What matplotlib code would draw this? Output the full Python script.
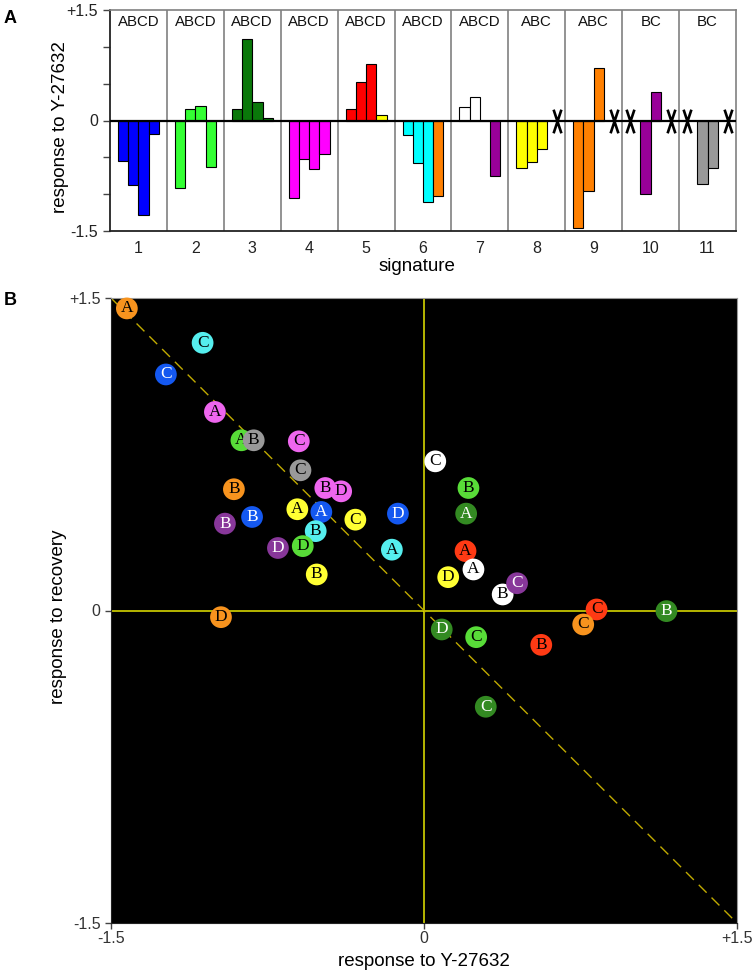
import numpy as np
import matplotlib
matplotlib.use('Agg')
import matplotlib.pyplot as plt
from matplotlib.path import Path

plt.rcParams['font.family'] = ['Liberation Sans', 'DejaVu Sans']

# ---- panel A data: response to Y-27632 per signature (A, B, C, D), None = missing (X)
signatures = [1, 2, 3, 4, 5, 6, 7, 8, 9, 10, 11]
sig_labels = ['ABCD', 'ABCD', 'ABCD', 'ABCD', 'ABCD', 'ABCD', 'ABCD', 'ABC', 'ABC', 'BC', 'BC']
bar_vals = [
    [-0.55, -0.88, -1.28, -0.18],
    [-0.91, 0.16, 0.20, -0.63],
    [0.15, 1.11, 0.25, 0.03],
    [-1.05, -0.52, -0.66, -0.45],
    [0.15, 0.52, 0.77, 0.07],
    [-0.20, -0.58, -1.11, -1.03],
    [0.18, 0.32, 0.0, -0.75],
    [-0.65, -0.56, -0.39, None],
    [-1.46, -0.96, 0.71, None],
    [None, -1.00, 0.39, None],
    [None, -0.86, -0.64, None],
]
bar_cols = [
    ['blue'] * 4,
    ['green'] * 4,
    ['darkgreen'] * 4,
    ['magenta'] * 4,
    ['red', 'red', 'red', 'yellow'],
    ['cyan', 'cyan', 'cyan', 'orange'],
    ['white', 'white', 'white', 'purple'],
    ['yellow', 'yellow', 'yellow', None],
    ['orange', 'orange', 'orange', None],
    [None, 'purple', 'purple', None],
    [None, 'gray', 'gray', None],
]

# ---- panel B data: (response to Y-27632, response to recovery)
pt_letter = ['A', 'C', 'C', 'A', 'A', 'B', 'C', 'C', 'B', 'B', 'D', 'A', 'A', 'B', 'B', 'C',
             'D', 'B', 'A', 'D', 'D', 'B', 'D', 'C', 'B', 'A', 'A', 'A', 'D', 'B', 'C', 'C',
             'C', 'B', 'D', 'C', 'B', 'C']
pt_x = [-1.424, -1.061, -1.237, -1.002, -0.875, -0.816, -0.600, -0.592, -0.911, -0.473,
        -0.397, -0.607, -0.492, -0.824, -0.954, -0.329, -0.125, -0.519, -0.154, -0.700,
        -0.581, -0.514, -0.973, 0.054, 0.213, 0.202, 0.199, 0.237, 0.116, 0.377,
        0.446, 0.827, 0.763, 1.162, 0.085, 0.250, 0.562, 0.296]
pt_y = [1.450, 1.285, 1.133, 0.953, 0.817, 0.817, 0.812, 0.673, 0.582, 0.588,
        0.572, 0.486, 0.473, 0.449, 0.417, 0.436, 0.465, 0.381, 0.292, 0.300,
        0.309, 0.173, -0.032, 0.716, 0.588, 0.465, 0.285, 0.197, 0.160, 0.077,
        0.131, 0.005, -0.067, -0.003, -0.091, -0.128, -0.165, -0.462]
pt_col = ['orange', 'cyan', 'blue', 'magenta', 'green', 'gray', 'magenta', 'gray', 'orange',
          'magenta', 'magenta', 'yellow', 'blue', 'blue', 'purple', 'yellow', 'blue', 'cyan',
          'cyan', 'purple', 'green', 'yellow', 'orange', 'white', 'green', 'darkgreen', 'red',
          'white', 'yellow', 'white', 'purple', 'red', 'orange', 'darkgreen', 'darkgreen',
          'green', 'red', 'darkgreen']

bar_palette = {'blue': '#0000ff', 'green': '#33ff33', 'darkgreen': '#0a780a',
               'magenta': '#ff00ff', 'red': '#ff0000', 'yellow': '#ffff00',
               'cyan': '#00ffff', 'orange': '#ff8000', 'white': '#ffffff',
               'purple': '#990099', 'gray': '#999999'}
dot_palette = {'blue': '#1458f0', 'green': '#58dc38', 'darkgreen': '#338a22',
               'magenta': '#ee66ee', 'red': '#ff3a14', 'yellow': '#ffff33',
               'cyan': '#55eeee', 'orange': '#f7931e', 'white': '#ffffff',
               'purple': '#88379a', 'gray': '#999999'}
dark = {'blue', 'purple', 'darkgreen'}

fig = plt.figure(figsize=(7.52, 9.77), dpi=100)

# ================= panel A =================
axA = fig.add_axes([110 / 752, 1 - 231 / 977, 626 / 752, 221 / 977])
w = 0.18
offs = (np.arange(4) - 1.5) * w
x_miss = []
for s, vals, cols in zip(signatures, bar_vals, bar_cols):
    for k in range(4):
        if vals[k] is None:
            x_miss.append(s + offs[k] + np.sign(offs[k]) * w / 2)
            continue
        axA.bar(s + offs[k], vals[k], width=w, color=bar_palette[cols[k]],
                edgecolor='black', linewidth=0.8, zorder=2)
for s, lab in zip(signatures, sig_labels):
    axA.text(s, 1.34, lab, ha='center', va='center', fontsize=10.8, color='#111')
for b in np.arange(1.5, len(signatures), 1.0):
    axA.axvline(b, color='#808080', lw=1.2, zorder=1)
axA.axhline(0, color='black', lw=1.6, zorder=3)

xpath = Path([(-0.33, -1), (0.33, 1), (-0.33, 1), (0.33, -1)],
             [Path.MOVETO, Path.LINETO, Path.MOVETO, Path.LINETO])
axA.plot(x_miss, np.zeros(len(x_miss)), ls='none', marker=xpath, ms=17,
         mew=1.9, mec='black', zorder=4)

axA.set_xlim(0.5, len(signatures) + 0.5)
axA.set_ylim(-1.5, 1.5)
axA.set_xticks(signatures)
axA.set_xticklabels([str(s) for s in signatures])
axA.tick_params(axis='x', length=0, pad=7, labelsize=11.5, labelcolor='#222')
axA.set_yticks([-1.5, 0, 1.5])
axA.set_yticklabels(['-1.5', '0', '+1.5'])
axA.set_yticks([-1, -0.5, 0.5, 1], minor=True)
axA.tick_params(axis='y', which='both', length=5, width=1, labelsize=11.5,
                labelcolor='#222', color='#444')
for side in ['left', 'bottom']:
    axA.spines[side].set_color('#222')
    axA.spines[side].set_linewidth(1.3)
for side in ['top', 'right']:
    axA.spines[side].set_color('#808080')
    axA.spines[side].set_linewidth(1.2)
axA.set_ylabel('response to Y-27632', fontsize=13.5)
axA.yaxis.set_label_coords(-0.066, 0.47)
axA.set_xlabel('signature', fontsize=13.5)
axA.xaxis.set_label_coords(0.49, -0.12)
fig.text(4 / 752, 1 - 10 / 977, 'A', fontsize=13, fontweight='bold', va='top')

# ================= panel B =================
axB = fig.add_axes([111 / 752, 1 - 923 / 977, 626 / 752, 625 / 977])
axB.set_facecolor('black')
axB.axhline(0, color='#e6e600', lw=1.1, zorder=1)
axB.axvline(0, color='#e6e600', lw=1.1, zorder=1)
axB.plot([-1.5, 1.5], [1.5, -1.5], color='#c0aa00', lw=1.0, dashes=(8, 5), zorder=2)

for i, (lt, x, y, c) in enumerate(zip(pt_letter, pt_x, pt_y, pt_col)):
    axB.scatter([x], [y], s=245, color=dot_palette[c], edgecolors='none',
                zorder=3 + 2 * i, clip_on=False)
    axB.text(x, y, lt, ha='center', va='center', fontsize=12.5,
             family=['Liberation Serif', 'DejaVu Serif'],
             color='white' if c in dark else 'black', zorder=4 + 2 * i)

axB.set_xlim(-1.5, 1.5)
axB.set_ylim(-1.5, 1.5)
axB.set_xticks([-1.5, 0, 1.5])
axB.set_xticklabels(['-1.5', '0', '+1.5'])
axB.set_yticks([-1.5, 0, 1.5])
axB.set_yticklabels(['-1.5', '0', '+1.5'])
axB.tick_params(axis='both', length=4, width=1, labelsize=11.5, labelcolor='#333', color='#444')
axB.tick_params(axis='x', pad=2)
for side in ['left', 'bottom']:
    axB.spines[side].set_color('#222')
for side in ['top', 'right']:
    axB.spines[side].set_color('#999999')
axB.set_ylabel('response to recovery', fontsize=13.5)
axB.yaxis.set_label_coords(-0.070, 0.49)
axB.set_xlabel('response to Y-27632', fontsize=13.5)
axB.xaxis.set_label_coords(0.5, -0.048)
fig.text(4 / 752, 1 - 292 / 977, 'B', fontsize=13, fontweight='bold', va='top')

fig.savefig('out.png', dpi=100)
